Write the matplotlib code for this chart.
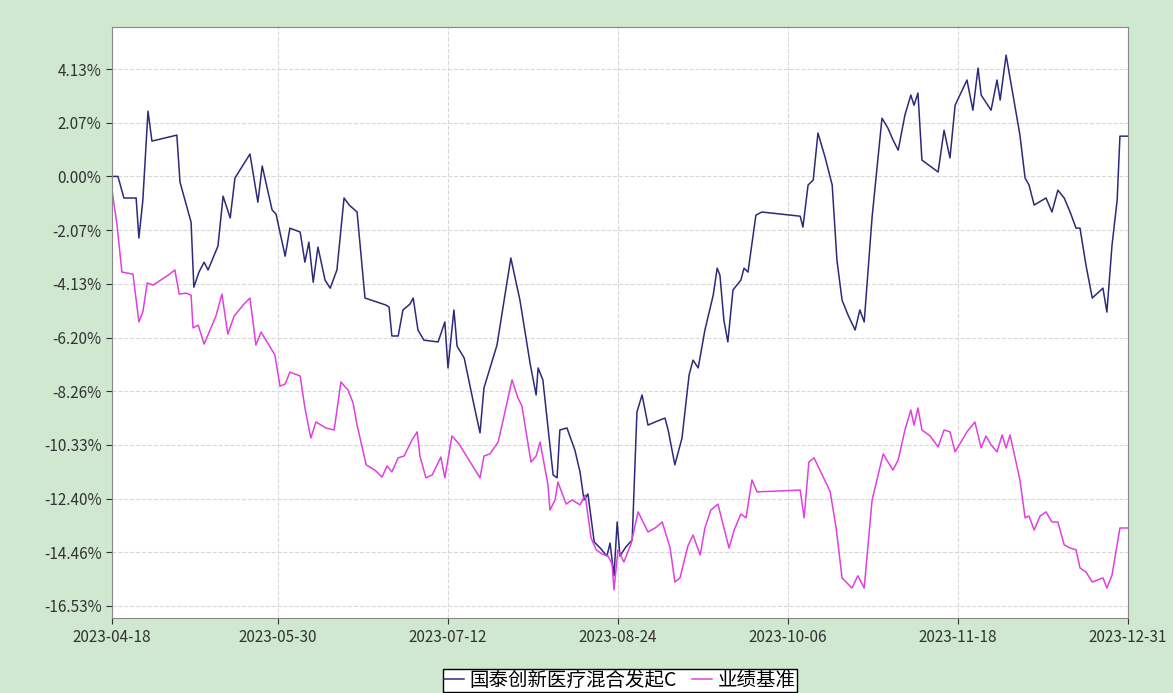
import matplotlib
matplotlib.use("Agg")
import matplotlib.pyplot as plt

plt.rcParams['font.family'] = ['Noto Sans CJK SC', 'DejaVu Sans']

# days since 2023-04-18, cumulative return (%)
fund_days = [0, 1.5, 3.0, 6.1, 6.8, 7.8, 9.1, 10.1, 16.4, 17.2, 20.0, 20.7, 22.0, 23.3, 24.3, 26.8, 28.1, 29.9, 31.1, 34.9,
             36.9, 38.0, 40.5, 41.5, 43.8, 45.0, 47.6, 48.8, 49.8, 50.9, 52.1, 53.9, 55.2, 56.9, 58.7, 60.0, 62.0, 64.0,
             69.3, 70.1, 70.8, 72.4, 73.6, 75.4, 76.2, 77.4, 78.9, 82.5, 84.2, 85.0, 86.5, 87.3, 89.1, 91.3, 93.1, 94.1,
             97.4, 100.9, 103.2, 105.8, 107.3, 107.8, 109.0, 110.6, 111.6, 112.6, 113.3, 115.1, 117.1, 118.4, 119.4,
             120.4, 122.0, 123.5, 125.2, 126.0, 127.0, 127.8, 128.5, 130.0, 131.6, 132.8, 134.1, 135.6, 137.4, 139.9,
             140.7, 142.4, 144.2, 146.0, 147.0, 148.3, 150.0, 152.1, 153.1, 153.8, 154.8, 155.8, 157.1, 159.1, 159.9,
             160.9, 162.9, 164.4, 174.1, 174.8, 176.1, 177.4, 178.6, 180.4, 182.2, 183.4, 184.7, 186.2, 188.0, 189.2,
             190.3, 192.3, 194.8, 196.3, 197.6, 198.9, 200.6, 202.1, 202.9, 203.9, 204.9, 209.0, 210.5, 212.0, 213.3,
             215.1, 216.3, 217.8, 219.1, 219.9, 222.4, 223.9, 224.7, 226.2, 229.7, 231.0, 232.0, 233.3, 236.3, 237.8,
             239.3, 240.9, 242.4, 243.9, 244.9, 246.4, 248.0, 250.7, 251.7, 253.0, 254.3, 255.0, 257.0]
fund_vals = [0.0, 0.0, -0.83, -0.83, -2.37, -0.91, 2.51, 1.36, 1.59, -0.22, -1.76, -4.26, -3.68, -3.30, -3.60, -2.68,
             -0.76, -1.60, -0.06, 0.86, -0.99, 0.40, -1.29, -1.45, -3.07, -1.99, -2.14, -3.30, -2.53, -4.07, -2.72,
             -3.99, -4.30, -3.60, -0.83, -1.10, -1.37, -4.68, -4.95, -5.03, -6.14, -6.14, -5.14, -4.91, -4.68, -5.91,
             -6.30, -6.37, -5.60, -7.37, -5.14, -6.53, -6.99, -8.60, -9.87, -8.14, -6.49, -3.14, -4.76, -7.22, -8.41,
             -7.37, -7.83, -10.07, -11.49, -11.60, -9.76, -9.68, -10.53, -11.37, -12.45, -12.22, -14.07, -14.30,
             -14.61, -14.11, -15.37, -13.30, -14.61, -14.26, -13.99, -9.07, -8.41, -9.57, -9.45, -9.30, -9.76, -11.10,
             -10.07, -7.64, -7.07, -7.37, -5.91, -4.57, -3.53, -3.80, -5.53, -6.37, -4.37, -3.99, -3.53, -3.68, -1.49,
             -1.37, -1.53, -1.95, -0.33, -0.14, 1.67, 0.74, -0.33, -3.22, -4.76, -5.33, -5.91, -5.14, -5.60, -1.56,
             2.24, 1.86, 1.40, 1.01, 2.36, 3.13, 2.74, 3.21, 0.63, 0.17, 1.78, 0.71, 2.74, 3.32, 3.71, 2.55, 4.17,
             3.13, 2.55, 3.71, 2.94, 4.67, 1.59, -0.06, -0.33, -1.10, -0.83, -1.37, -0.53, -0.83, -1.37, -1.99, -1.99,
             -3.41, -4.68, -4.30, -5.22, -2.64, -0.91, 1.55, 1.55]

bench_days = [0, 1.3, 2.5, 5.3, 6.8, 7.8, 8.9, 10.4, 14.2, 15.9, 17.0, 18.7, 20.0, 20.5, 21.8, 23.3, 24.8, 26.3, 27.8,
              29.3, 30.9, 33.4, 34.9, 36.4, 37.7, 39.7, 41.2, 42.5, 43.8, 45.0, 47.6, 48.8, 50.3, 51.6, 54.1, 56.2,
              57.9, 59.7, 61.0, 62.0, 64.3, 66.5, 68.3, 69.6, 70.8, 72.4, 73.9, 75.9, 77.2, 77.9, 79.4, 81.0, 83.2,
              84.2, 86.0, 87.8, 90.3, 93.1, 94.1, 95.6, 97.7, 99.4, 101.2, 102.7, 103.7, 106.0, 107.3, 108.3, 110.3,
              110.8, 112.1, 112.8, 114.9, 116.4, 118.4, 119.7, 121.2, 122.5, 124.0, 125.5, 126.5, 127.0, 128.0, 129.5,
              131.3, 133.1, 134.1, 135.6, 137.4, 139.2, 141.2, 142.4, 143.7, 145.7, 147.0, 148.8, 150.0, 151.5, 153.3,
              154.3, 156.1, 157.4, 159.1, 160.4, 161.9, 163.2, 174.1, 175.1, 176.3, 177.6, 179.1, 181.7, 183.2, 184.7,
              187.2, 188.7, 190.3, 192.3, 195.1, 196.3, 197.6, 198.9, 200.6, 202.1, 202.9, 203.9, 204.9, 207.0, 209.0,
              210.5, 212.0, 213.3, 215.1, 216.3, 218.3, 219.9, 221.1, 222.4, 223.9, 225.2, 226.2, 227.2, 229.7, 231.0,
              232.0, 233.3, 234.8, 236.3, 237.8, 239.3, 240.9, 242.4, 243.9, 244.9, 246.4, 248.0, 250.7, 251.7, 253.0,
              254.3, 255.0, 257.0]
bench_vals = [-0.53, -1.91, -3.68, -3.76, -5.60, -5.22, -4.10, -4.18, -3.80, -3.60, -4.53, -4.49, -4.57, -5.83, -5.72,
              -6.45, -5.91, -5.37, -4.53, -6.07, -5.37, -4.91, -4.68, -6.49, -5.99, -6.49, -6.87, -8.07, -7.99, -7.53,
              -7.68, -8.91, -10.07, -9.45, -9.68, -9.76, -7.91, -8.22, -8.72, -9.57, -11.10, -11.30, -11.57, -11.14,
              -11.37, -10.83, -10.76, -10.14, -9.83, -10.76, -11.60, -11.49, -10.80, -11.60, -9.99, -10.30, -10.91,
              -11.60, -10.76, -10.68, -10.22, -9.07, -7.83, -8.53, -8.83, -10.99, -10.76, -10.22, -11.87, -12.84,
              -12.45, -11.76, -12.61, -12.45, -12.64, -12.26, -13.91, -14.37, -14.53, -14.61, -14.91, -15.91, -14.37,
              -14.84, -14.14, -12.91, -13.22, -13.68, -13.53, -13.30, -14.30, -15.61, -15.45, -14.22, -13.80, -14.57,
              -13.53, -12.84, -12.61, -13.22, -14.30, -13.61, -12.99, -13.14, -11.68, -12.14, -12.07, -13.14, -10.99,
              -10.83, -11.30, -12.14, -13.53, -15.45, -15.84, -15.37, -15.84, -12.45, -10.68, -10.99, -11.30, -10.91,
              -9.76, -8.99, -9.57, -8.91, -9.76, -9.99, -10.41, -9.76, -9.83, -10.60, -10.14, -9.83, -9.45, -10.45,
              -9.99, -10.33, -10.60, -9.95, -10.45, -9.95, -11.68, -13.14, -13.07, -13.61, -13.07, -12.91, -13.30,
              -13.30, -14.18, -14.30, -14.37, -15.07, -15.22, -15.61, -15.45, -15.84, -15.34, -14.18, -13.53, -13.53]

x_ticks = [0, 42, 85, 128, 171, 214, 257]
x_labels = ['2023-04-18', '2023-05-30', '2023-07-12', '2023-08-24', '2023-10-06', '2023-11-18', '2023-12-31']
y_ticks = [4.13, 2.07, 0.00, -2.07, -4.13, -6.20, -8.26, -10.33, -12.40, -14.46, -16.53]

fig = plt.figure(figsize=(11.73, 6.93), dpi=100, facecolor='#cfe8cf')
ax = fig.add_axes([0.0955, 0.108, 0.866, 0.853])
ax.set_facecolor('white')

ax.plot(fund_days, fund_vals, color='#2b2b7a', lw=1.1, label='国泰创新医疗混合发起C')
ax.plot(bench_days, bench_vals, color='#e040e0', lw=1.1, label='业绩基准')

ax.set_xlim(0, 257)
ax.set_ylim(-17.0, 5.75)
ax.set_xticks(x_ticks)
ax.set_xticklabels(x_labels)
ax.set_yticks(y_ticks)
ax.set_yticklabels(['%.2f%%' % v for v in y_ticks])
ax.tick_params(labelsize=11, colors='#333333', length=4)
ax.grid(True, linestyle='--', color='#d8d8d8', lw=0.8)
for s in ax.spines.values():
    s.set_color('#888888')

leg = ax.legend(loc='upper center', bbox_to_anchor=(0.5, -0.07), ncol=2, fontsize=14,
                frameon=True, fancybox=False, edgecolor='black', facecolor='white', framealpha=1,
                handlelength=1.0, handletextpad=0.3, columnspacing=0.8, borderpad=0.05)
leg.get_frame().set_linewidth(1.0)

fig.savefig('out.png', dpi=100, facecolor=fig.get_facecolor())
